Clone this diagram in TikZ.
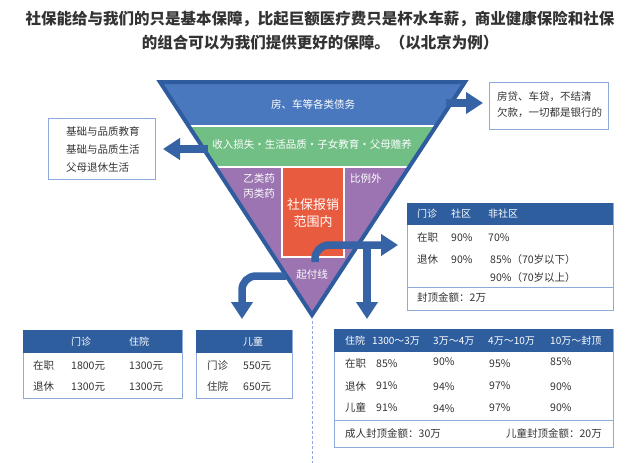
\documentclass[tikz,border=0pt]{standalone}
\usepackage{fontspec}
\setmainfont{Noto Sans CJK SC}
\usetikzlibrary{arrows.meta}
\definecolor{tborder}{HTML}{2F5C9E}
\definecolor{bandblue}{HTML}{4A78BE}
\definecolor{bandgreen}{HTML}{72BF86}
\definecolor{bandpurple}{HTML}{9B74B1}
\definecolor{bandorange}{HTML}{E95B3F}
\definecolor{arrowblue}{HTML}{3563A6}
\definecolor{hdrblue}{HTML}{2F5E9F}
\definecolor{tblline}{HTML}{8EAADC}
\definecolor{txt}{HTML}{333333}
\tikzset{
  bigarrow/.style={draw=arrowblue, line width=7.5pt, rounded corners=14pt,
    -{Triangle[width=21pt,length=17pt]}},
  tritxt/.style={text=white, inner sep=0pt, font=\fontsize{10.5}{12}\selectfont,
    text height=9.2pt, text depth=1.3pt},
  bigtxt/.style={text=white, inner sep=0pt, font=\fontsize{13}{15}\selectfont,
    text height=11.4pt, text depth=1.6pt},
  cell/.style={text=txt, inner sep=0pt, anchor=west, font=\fontsize{10.5}{12}\selectfont,
    text height=9.2pt, text depth=1.3pt},
  hcell/.style={text=white, inner sep=0pt, anchor=west, font=\fontsize{10}{12}\selectfont,
    text height=8.8pt, text depth=1.2pt},
  tblbox/.style={draw=tblline, line width=1pt, fill=white, inner sep=0pt, anchor=north west},
  hdrbar/.style={fill=hdrblue, inner sep=0pt, anchor=north west},
  titletxt/.style={text=txt, inner sep=0pt, font=\fontsize{15.5}{18}\selectfont\bfseries,
    text height=13.6pt, text depth=1.9pt},
}
\begin{document}
\begin{tikzpicture}[x=1pt,y=-1pt]
\useasboundingbox[fill=white] (0,0) rectangle (640,463);

% title
\node[titletxt] (t1) at (320,19) {社保能给与我们的只是基本保障，比起巨额医疗费只是杯水车薪，商业健康保险和社保};
\node[titletxt] (t2) at (320,43) {的组合可以为我们提供更好的保障。（以北京为例）};

% funnel
\coordinate (TL) at (160,82);
\coordinate (TR) at (465,82);
\coordinate (AP) at (312,315);
\begin{scope}
  \clip (TL) -- (TR) -- (AP) -- cycle;
  \fill[bandblue] (140,78) rectangle (480,125);
  \fill[bandgreen] (140,127) rectangle (480,166);
  \fill[bandpurple] (140,168) rectangle (480,325);
  \fill[bandorange] (282,168) rectangle (344,257);
  \draw[white, line width=1.5pt] (282,168) -- (282,257) -- (344,257) -- (344,168);
\end{scope}
\draw[tborder, line width=4pt, line join=miter] (TL) -- (TR) -- (AP) -- cycle;

\node[tritxt] (debt) at (313,105) {房、车等各类债务};
\node[tritxt] (income) at (312,145) {收入损失·生活品质·子女教育·父母赡养};
\node[tritxt, anchor=east] (yi) at (275,179) {乙类药};
\node[tritxt, anchor=east] (bing) at (275,194) {丙类药};
\node[tritxt, anchor=west] (bili) at (350,179) {比例外};
\node[bigtxt] (sb1) at (313,205) {社保报销};
\node[bigtxt] (sb2) at (313,222) {范围内};
\node[tritxt] (qfx) at (312,275) {起付线};

% dashed line
\coordinate (dtop) at (312,321);
\coordinate (dbot) at (312,463);
\draw[tblline, line width=1pt, dash pattern=on 3pt off 2pt] (dtop) -- (dbot);

% left box
\node[tblbox, minimum width=107pt, minimum height=61pt] (lbox) at (48,118) {};
\node[cell] (l1) at (66,132) {基础与品质教育};
\node[cell] (l2) at (66,150) {基础与品质生活};
\node[cell] (l3) at (66,168) {父母退休生活};

% right top box
\node[tblbox, minimum width=119pt, minimum height=47pt] (rbox) at (489,82) {};
\node[cell] (r1) at (497,97) {房贷、车贷，不结清};
\node[cell] (r2) at (497,113) {欠款，一切都是银行的};

% arrows
\coordinate (a1s) at (446,103);
\coordinate (a1e) at (483,103);
\draw[bigarrow] (a1s) -- (a1e);
\coordinate (a2s) at (208,149);
\coordinate (a2e) at (163,149);
\draw[bigarrow] (a2s) -- (a2e);
\coordinate (a3s) at (286,276);
\coordinate (a3c) at (242,276);
\coordinate (a3e) at (242,319);
\draw[bigarrow] (a3s) -- (a3c) -- (a3e);
\coordinate (a4s) at (315,262);
\coordinate (a4c) at (315,245);
\coordinate (a4e) at (398,245);
\draw[bigarrow] (a4s) -- (a4c) -- (a4e);
\coordinate (a5s) at (367,241.5);
\coordinate (a5e) at (367,319);
\draw[bigarrow] (a5s) -- (a5e);

% middle right table
\node[tblbox, minimum width=206pt, minimum height=107pt] (mt) at (407,203) {};
\node[hdrbar, minimum width=206pt, minimum height=22pt] (mth) at (407,203) {};
\draw[tblline, line width=1pt] (407,287) -- (613,287);
\node[hcell] (mh1) at (417,214) {门诊};
\node[hcell] (mh2) at (451,214) {社区};
\node[hcell] (mh3) at (488,214) {非社区};
\node[cell] (m11) at (417,238) {在职};
\node[cell] (m12) at (451,238) {90\%};
\node[cell] (m13) at (488,238) {70\%};
\node[cell] (m21) at (417,260) {退休};
\node[cell] (m22) at (451,260) {90\%};
\node[cell] (m23) at (490,260) {85\%（70岁以下）};
\node[cell] (m33) at (490,278) {90\%（70岁以上）};
\node[cell] (mf) at (417,298) {封顶金额：2万};

% bottom left table 1
\node[tblbox, minimum width=159pt, minimum height=68pt] (bt1) at (23,330) {};
\node[hdrbar, minimum width=159pt, minimum height=23pt] (bt1h) at (23,330) {};
\node[hcell] (b1h1) at (71,342) {门诊};
\node[hcell] (b1h2) at (129,342) {住院};
\node[cell] (b111) at (33,366) {在职};
\node[cell] (b112) at (71,366) {1800元};
\node[cell] (b113) at (129,366) {1300元};
\node[cell] (b121) at (33,387) {退休};
\node[cell] (b122) at (71,387) {1300元};
\node[cell] (b123) at (129,387) {1300元};

% bottom left table 2
\node[tblbox, minimum width=96pt, minimum height=68pt] (bt2) at (196,330) {};
\node[hdrbar, minimum width=96pt, minimum height=23pt] (bt2h) at (196,330) {};
\node[hcell] (b2h1) at (243,342) {儿童};
\node[cell] (b211) at (207,366) {门诊};
\node[cell] (b212) at (243,366) {550元};
\node[cell] (b221) at (207,387) {住院};
\node[cell] (b222) at (243,387) {650元};

% bottom right table
\node[tblbox, minimum width=279pt, minimum height=118pt] (bt3) at (334,329) {};
\node[hdrbar, minimum width=279pt, minimum height=23pt] (bt3h) at (334,329) {};
\draw[tblline, line width=1pt] (334,420) -- (613,420);
\node[hcell] (b3h1) at (345,341) {住院};
\node[hcell] (b3h2) at (372,341) {1300～3万};
\node[hcell] (b3h3) at (433,341) {3万～4万};
\node[hcell] (b3h4) at (488,341) {4万～10万};
\node[hcell] (b3h5) at (550,341) {10万～封顶};
\node[cell] (b311) at (345,364) {在职};
\node[cell] (b312) at (376,364) {85\%};
\node[cell] (b313) at (433,362) {90\%};
\node[cell] (b314) at (489,364) {95\%};
\node[cell] (b315) at (550,362) {85\%};
\node[cell] (b321) at (345,387) {退休};
\node[cell] (b322) at (376,386) {91\%};
\node[cell] (b323) at (433,387) {94\%};
\node[cell] (b324) at (489,386) {97\%};
\node[cell] (b325) at (550,387) {90\%};
\node[cell] (b331) at (345,408) {儿童};
\node[cell] (b332) at (376,408) {91\%};
\node[cell] (b333) at (433,409) {94\%};
\node[cell] (b334) at (489,408) {97\%};
\node[cell] (b335) at (550,408) {90\%};
\node[cell] (b3f1) at (345,434) {成人封顶金额：30万};
\node[cell, anchor=east] (b3f2) at (602,434) {儿童封顶金额：20万};
\end{tikzpicture}
\end{document}
